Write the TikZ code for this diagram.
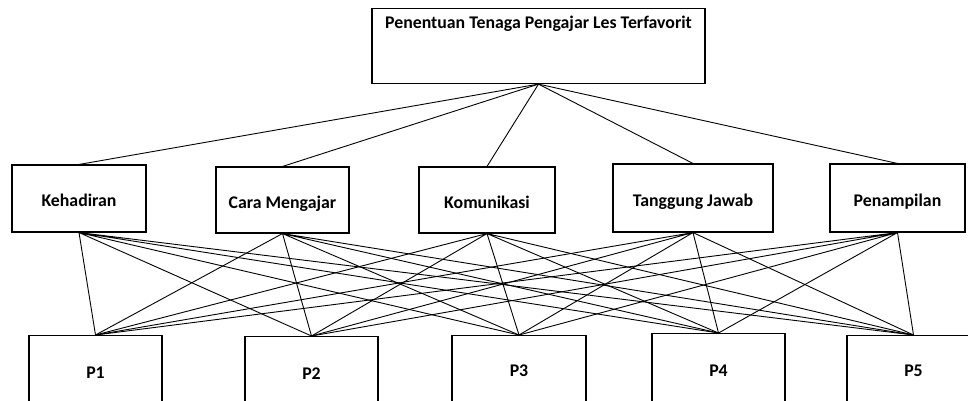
\documentclass[tikz,border=0pt]{standalone}
\usepackage{fontspec}
\setmainfont{Carlito}
\begin{document}
\begin{tikzpicture}[x=1pt,y=-1pt,line width=.9pt,
    kotak/.style={draw,rectangle,line width=1.1pt,inner sep=0pt,font=\bfseries\fontsize{17.8}{20}\selectfont},
    kriteria/.style={kotak,text height=16.5pt,text depth=0pt},
    alternatif/.style={kotak,anchor=north,minimum width=133pt,text height=11.5pt,text depth=0pt}]
    \useasboundingbox (0,0) rectangle (968,400);
    \node[kotak,anchor=north,minimum width=333pt,text height=19.5pt,text depth=55.5pt] (T) at (538.5,8) {Penentuan Tenaga Pengajar Les Terfavorit};
    \node[kriteria,minimum width=134pt,minimum height=67pt] (K1) at (79,198.5) {Kehadiran};
    \node[kriteria,minimum width=133pt,minimum height=66pt] (K2) at (282.5,200) {Cara Mengajar};
    \node[kriteria,minimum width=136pt,minimum height=66pt] (K3) at (487,200) {Komunikasi};
    \node[kriteria,minimum width=160pt,minimum height=68pt] (K4) at (693,198) {Tanggung Jawab};
    \node[kriteria,minimum width=135pt,minimum height=68pt] (K5) at (897.5,198) {Penampilan};
    \node[alternatif,minimum height=74pt] (P1) at (95.5,335) {P1};
    \node[alternatif,minimum height=74pt] (P2) at (311.5,336) {P2};
    \node[alternatif,minimum width=134pt,minimum height=70pt] (P3) at (519,335) {P3};
    \node[alternatif,minimum height=74pt] (P4) at (718.5,333) {P4};
    \node[alternatif,minimum height=70pt] (P5) at (913.5,335) {P5};
    \draw (T.south) -- (K1.north);
    \draw (T.south) -- (K2.north);
    \draw (T.south) -- (K3.north);
    \draw (T.south) -- (K4.north);
    \draw (T.south) -- (K5.north);
    \draw (K1.south) -- (P1.north) (K1.south) -- (P2.north) (K1.south) -- (P3.north) (K1.south) -- (P4.north) (K1.south) -- (P5.north);
    \draw (K2.south) -- (P1.north) (K2.south) -- (P2.north) (K2.south) -- (P3.north) (K2.south) -- (P4.north) (K2.south) -- (P5.north);
    \draw (K3.south) -- (P1.north) (K3.south) -- (P2.north) (K3.south) -- (P3.north) (K3.south) -- (P4.north) (K3.south) -- (P5.north);
    \draw (K4.south) -- (P1.north) (K4.south) -- (P2.north) (K4.south) -- (P3.north) (K4.south) -- (P4.north) (K4.south) -- (P5.north);
    \draw (K5.south) -- (P1.north) (K5.south) -- (P2.north) (K5.south) -- (P3.north) (K5.south) -- (P4.north) (K5.south) -- (P5.north);
\end{tikzpicture}
\end{document}
